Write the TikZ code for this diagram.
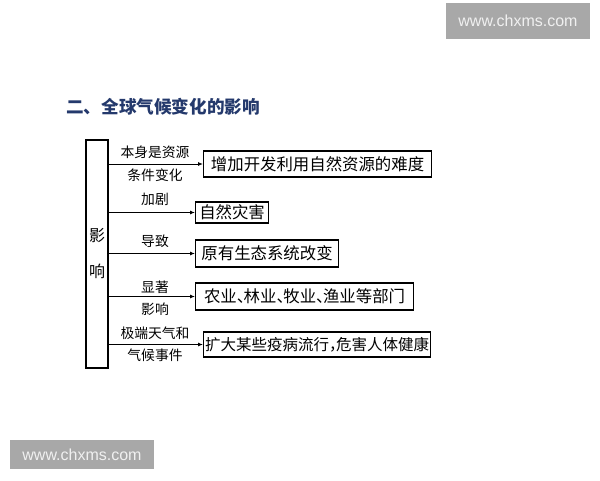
\documentclass[tikz,border=0pt]{standalone}
\usepackage{fontspec}
\newfontfamily\cjk{Noto Sans CJK SC}
\newfontfamily\wm{Liberation Sans}
\usetikzlibrary{arrows.meta}
\definecolor{titleblue}{HTML}{24396C}
\definecolor{wmgray}{HTML}{A8A8A8}
\newcommand{\dun}{\makebox[0.42em][l]{、}}
\newcommand{\dou}{\makebox[0.45em][l]{，}}
\begin{document}
\begin{tikzpicture}[x=1pt,y=-1pt,
  result/.style={draw=black,line width=1.1pt,anchor=west,inner xsep=1pt,inner ysep=0pt,font=\cjk\fontsize{16.4}{18}\selectfont},
  lbl/.style={font=\cjk\fontsize{13.8}{15}\selectfont,inner sep=0pt},
  arr/.style={line width=0.9pt,-{Latex[length=5pt,width=4pt]}},
  wmbox/.style={fill=wmgray,text=white!94!black,font=\wm\fontsize{16}{18}\selectfont,inner sep=0pt}]
\useasboundingbox (0,0) rectangle (600,480);
\fill[white] (0,0) rectangle (600,480);
% watermarks
\node[wmbox,minimum width=144pt,minimum height=36pt] (wm1) at (518,21) {www.chxms.com};
\node[wmbox,minimum width=144pt,minimum height=29pt] (wm2) at (82,454.5) {www.chxms.com};
% title
\node[anchor=west,text=titleblue,inner sep=0pt,font=\cjk\bfseries\fontsize{17.6}{20}\selectfont] (title) at (66,107) {二、全球气候变化的影响};
% left box
\node[draw=black,line width=1.1pt,minimum width=22pt,minimum height=228pt,inner sep=0pt] (lb) at (97,254) {};
\node[font=\cjk\fontsize{16}{18}\selectfont,inner sep=0pt] (c1) at (97,236) {影};
\node[font=\cjk\fontsize{16}{18}\selectfont,inner sep=0pt] (c2) at (97,271) {响};
% result boxes
\node[result,minimum height=26pt,minimum width=228pt] (b1) at (203,164) {增加开发利用自然资源的难度};
\node[result,minimum height=21pt,minimum width=73pt] (b2) at (195,212.5) {自然灾害};
\node[result,minimum height=27pt,minimum width=143pt] (b3) at (195,253.5) {原有生态系统改变};
\node[result,minimum height=27pt,minimum width=218pt] (b4) at (195,296.5) {农业\dun 林业\dun 牧业\dun 渔业等部门};
\node[result,minimum height=25pt,minimum width=227pt,font=\cjk\fontsize{15.5}{18}\selectfont] (b5) at (203,344.5) {扩大某些疫病流行\dou 危害人体健康};
% arrows
\draw[arr] (lb.east |- b1.west) -- (b1.west);
\draw[arr] (lb.east |- b2.west) -- (b2.west);
\draw[arr] (lb.east |- b3.west) -- (b3.west);
\draw[arr] (lb.east |- b4.west) -- (b4.west);
\draw[arr] (lb.east |- b5.west) -- (b5.west);
% labels
\node[lbl] (l1a) at (155,152) {本身是资源};
\node[lbl] (l1b) at (155,175) {条件变化};
\node[lbl] (l2) at (155,199) {加剧};
\node[lbl] (l3) at (155,241) {导致};
\node[lbl] (l4a) at (155,287) {显著};
\node[lbl] (l4b) at (155,309) {影响};
\node[lbl] (l5a) at (155,333) {极端天气和};
\node[lbl] (l5b) at (155,355) {气候事件};
\end{tikzpicture}
\end{document}
